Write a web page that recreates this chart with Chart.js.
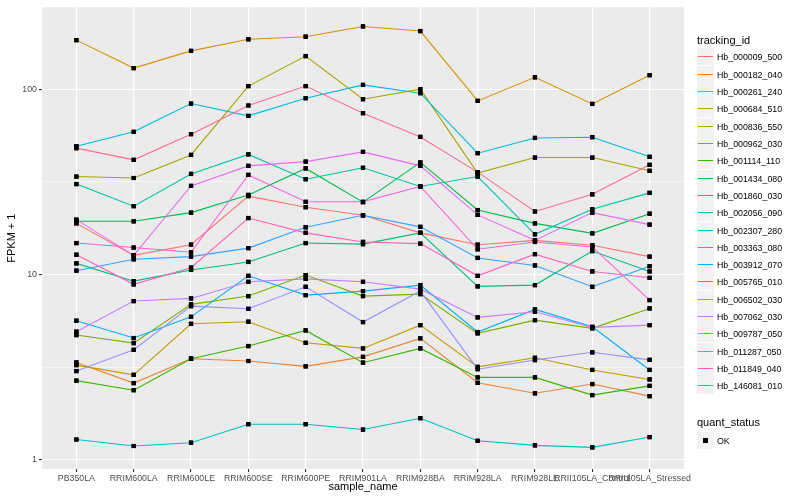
<!DOCTYPE html>
<html>
<head>
<meta charset="utf-8">
<script src="https://cdn.jsdelivr.net/npm/chart.js@4.4.1/dist/chart.umd.min.js"></script>
<style>
    html, body { margin: 0; padding: 0; background: #fff; }
    #wrap { position: relative; width: 800px; height: 500px; font-family: "Liberation Sans", Arial, sans-serif; }
    #chart { position: absolute; left: 0; top: 0; }
    .legend-title { position: absolute; left: 697px; font-size: 11px; line-height: 12px; color: #000; }
    .legend-row { position: absolute; left: 697px; height: 17px; display: flex; align-items: center; }
    .legend-key { position: relative; width: 17px; height: 17px; background: #F2F2F2; }
    .legend-key .ln { position: absolute; left: 1px; right: 1px; top: 7.5px; height: 1.6px; }
    .legend-key .pt { position: absolute; left: 6px; top: 6px; width: 5px; height: 5px; background: #000; }
    .legend-label { font-size: 8.8px; margin-left: 3px; color: #000; white-space: nowrap; }
</style>
</head>
<body>
<div id="wrap">
    <canvas id="chart" width="800" height="500"></canvas>
    <div id="legend"></div>
</div>
<script>
const sampleNames = ['PB350LA', 'RRIM600LA', 'RRIM600LE', 'RRIM600SE', 'RRIM600PE', 'RRIM901LA',
    'RRIM928BA', 'RRIM928LA', 'RRIM928LE', 'RRII105LA_Control', 'RRII105LA_Stressed'];

const trackingIds = ['Hb_000009_500', 'Hb_000182_040', 'Hb_000261_240', 'Hb_000684_510', 'Hb_000836_550',
    'Hb_000962_030', 'Hb_001114_110', 'Hb_001434_080', 'Hb_001860_030', 'Hb_002056_090',
    'Hb_002307_280', 'Hb_003363_080', 'Hb_003912_070', 'Hb_005765_010', 'Hb_006502_030',
    'Hb_007062_030', 'Hb_009787_050', 'Hb_011287_050', 'Hb_011849_040', 'Hb_146081_010'];

// default ggplot hue palette for 20 groups
const lineColors = ['#F8766D', '#EA8331', '#D89000', '#C09B00', '#A3A500', '#7CAE00', '#39B600', '#00BB4E',
    '#00BF7D', '#00C1A3', '#00BFC4', '#00BAE0', '#00B0F6', '#35A2FF', '#9590FF', '#C77CFF',
    '#E76BF3', '#FA62DB', '#FF62BC', '#FF6C91'];

// FPKM + 1 per sample
const fpkm_000009_500 = [18.9, 12.7, 14.5, 26.5, 23.1, 20.9, 16.8, 14.5, 15.3, 14.4, 12.5];
const fpkm_000182_040 = [3.36, 2.60, 3.52, 3.42, 3.20, 3.60, 4.53, 2.61, 2.29, 2.57, 2.21];
const fpkm_000261_240 = [184, 130, 161, 186, 192, 218, 206, 86.5, 116, 83.3, 119];
const fpkm_000684_510 = [3.25, 2.88, 5.43, 5.57, 4.29, 4.00, 5.34, 3.18, 3.56, 3.06, 2.72];
const fpkm_000836_550 = [33.8, 33.2, 44.2, 104, 151, 88.3, 100, 35.3, 42.8, 42.8, 36.3];
const fpkm_000962_030 = [4.72, 4.27, 6.91, 7.66, 9.94, 7.66, 7.85, 4.82, 5.68, 5.13, 6.57];
const fpkm_001114_110 = [2.68, 2.38, 3.52, 4.12, 5.00, 3.35, 4.00, 2.79, 2.79, 2.24, 2.51];
const fpkm_001434_080 = [19.4, 19.4, 21.6, 26.9, 37.4, 24.6, 40.3, 22.3, 18.9, 16.7, 21.3];
const fpkm_001860_030 = [11.5, 9.22, 10.6, 11.7, 14.8, 14.6, 16.8, 8.64, 8.78, 13.4, 10.4];
const fpkm_002056_090 = [30.8, 23.4, 34.9, 44.5, 32.7, 37.7, 29.9, 33.8, 16.5, 22.5, 27.6];
const fpkm_002307_280 = [1.29, 1.19, 1.24, 1.56, 1.56, 1.46, 1.68, 1.27, 1.20, 1.17, 1.33];
const fpkm_003363_080 = [49.3, 58.9, 83.7, 71.8, 89.4, 105.5, 95.2, 45.2, 54.6, 55.1, 43.2];
const fpkm_003912_070 = [5.64, 4.55, 5.92, 9.85, 7.75, 8.15, 8.78, 4.90, 6.49, 5.23, 3.06];
const fpkm_005765_010 = [10.5, 12.1, 12.5, 13.9, 18.0, 20.9, 18.1, 12.3, 11.2, 8.60, 11.1];
const fpkm_006502_030 = [3.02, 3.93, 6.76, 6.54, 8.60, 5.55, 8.15, 3.09, 3.46, 3.81, 3.47];
const fpkm_007062_030 = [4.92, 7.20, 7.44, 9.15, 9.49, 9.15, 8.35, 5.88, 6.30, 5.19, 5.34];
const fpkm_009787_050 = [19.8, 12.7, 30.1, 38.6, 40.7, 45.9, 38.6, 21.0, 15.3, 21.6, 18.6];
const fpkm_011287_050 = [14.8, 14.0, 13.2, 34.5, 24.7, 24.7, 29.9, 13.7, 15.0, 14.1, 7.29];
const fpkm_011849_040 = [12.8, 8.86, 10.9, 20.2, 16.8, 15.0, 14.7, 9.85, 12.9, 10.4, 9.61];
const fpkm_146081_010 = [48.1, 41.6, 57.2, 81.7, 104, 74.3, 55.3, 35.7, 21.9, 27.1, 39.1];

const seriesValues = [fpkm_000009_500, fpkm_000182_040, fpkm_000261_240, fpkm_000684_510, fpkm_000836_550,
    fpkm_000962_030, fpkm_001114_110, fpkm_001434_080, fpkm_001860_030, fpkm_002056_090,
    fpkm_002307_280, fpkm_003363_080, fpkm_003912_070, fpkm_005765_010, fpkm_006502_030,
    fpkm_007062_030, fpkm_009787_050, fpkm_011287_050, fpkm_011849_040, fpkm_146081_010];

// major and minor log breaks, like ggplot's scale_y_log10
const yTickValues = [1, 3.1623, 10, 31.623, 100];
const yTickLabels = ['1', '', '10', '', '100'];

const quantStatus = ['OK'];

Chart.defaults.font.family = '"Liberation Sans", Arial, sans-serif';

// grey panel behind the grid
const panelBackground = {
    id: 'panelBackground',
    beforeDraw(chart) {
        const { ctx, chartArea } = chart;
        ctx.save();
        ctx.fillStyle = '#EBEBEB';
        ctx.fillRect(chartArea.left, chartArea.top, chartArea.right - chartArea.left, chartArea.bottom - chartArea.top);
        ctx.restore();
    }
};

// points are a separate layer on top of all lines
const pointsOnTop = {
    id: 'pointsOnTop',
    afterDatasetsDraw(chart) {
        const ctx = chart.ctx;
        chart.data.datasets.forEach((ds, i) => {
            chart.getDatasetMeta(i).data.forEach(pt => pt.draw(ctx, chart.chartArea));
        });
    }
};

const datasets = trackingIds.map((id, i) => ({
    label: id,
    data: seriesValues[i].map((v, j) => ({ x: j, y: v })),
    borderColor: lineColors[i],
    backgroundColor: lineColors[i],
    borderWidth: 1.1,
    pointStyle: 'rect',
    pointRadius: 3,
    pointBackgroundColor: '#000',
    pointBorderWidth: 0,
    tension: 0,
    order: trackingIds.length - i
}));

const isMajor = v => Math.abs(Math.log10(v) - Math.round(Math.log10(v))) < 1e-6;

const chart = new Chart(document.getElementById('chart').getContext('2d'), {
    type: 'line',
    data: { datasets: datasets },
    options: {
        responsive: false,
        animation: false,
        layout: { padding: { left: 0, top: 7, right: 116, bottom: 0 } },
        plugins: {
            legend: { display: false },
            tooltip: { enabled: false }
        },
        scales: {
            x: {
                type: 'linear',
                min: -0.6,
                max: 10.6,
                afterBuildTicks: scale => {
                    scale.ticks = sampleNames.map((n, i) => ({ value: i }));
                },
                afterFit: scale => { scale.height = 31; },
                ticks: {
                    autoSkip: false,
                    maxRotation: 0,
                    minRotation: 0,
                    padding: 1,
                    color: '#4D4D4D',
                    font: { size: 8.8 },
                    callback: value => sampleNames[value]
                },
                grid: {
                    color: '#FFFFFF',
                    lineWidth: 1.1,
                    tickColor: '#333333',
                    tickLength: 3
                },
                border: { display: false },
                title: {
                    display: true,
                    text: 'sample_name',
                    color: '#000',
                    font: { size: 11 },
                    padding: { top: 0, bottom: 6 }
                }
            },
            y: {
                type: 'logarithmic',
                min: 0.8943,
                max: 276.7,
                afterBuildTicks: scale => {
                    scale.ticks = yTickValues.map(v => ({ value: v }));
                },
                afterFit: scale => { scale.width = 42; },
                ticks: {
                    padding: 2,
                    color: '#4D4D4D',
                    font: { size: 8.8 },
                    callback: (value, index) => yTickLabels[index]
                },
                grid: {
                    color: '#FFFFFF',
                    lineWidth: ctx => isMajor(ctx.tick.value) ? 1.1 : 0.55,
                    tickColor: ctx => isMajor(ctx.tick.value) ? '#333333' : 'rgba(0,0,0,0)',
                    tickLength: 3
                },
                border: { display: false },
                title: {
                    display: true,
                    text: 'FPKM + 1',
                    color: '#000',
                    font: { size: 11 },
                    padding: { top: 5, bottom: 0 }
                }
            }
        }
    },
    plugins: [panelBackground, pointsOnTop]
});

// ggplot-style legend built from the chart's datasets
function buildLegend() {
    const legend = document.getElementById('legend');
    let html = '<div class="legend-title" style="top:34px">tracking_id</div>';
    chart.data.datasets.forEach((ds, i) => {
        const top = Math.round(48.2 + i * 17.33);
        html += `
            <div class="legend-row" style="top:${top}px">
                <div class="legend-key"><div class="ln" style="background:${ds.borderColor}"></div></div>
                <span class="legend-label">${ds.label}</span>
            </div>`;
    });
    html += '<div class="legend-title" style="top:416px">quant_status</div>';
    quantStatus.forEach((s, i) => {
        html += `
            <div class="legend-row" style="top:${Math.round(431.5 + i * 17.33)}px">
                <div class="legend-key"><div class="pt"></div></div>
                <span class="legend-label">${s}</span>
            </div>`;
    });
    legend.innerHTML = html;
}

buildLegend();
</script>
</body>
</html>
